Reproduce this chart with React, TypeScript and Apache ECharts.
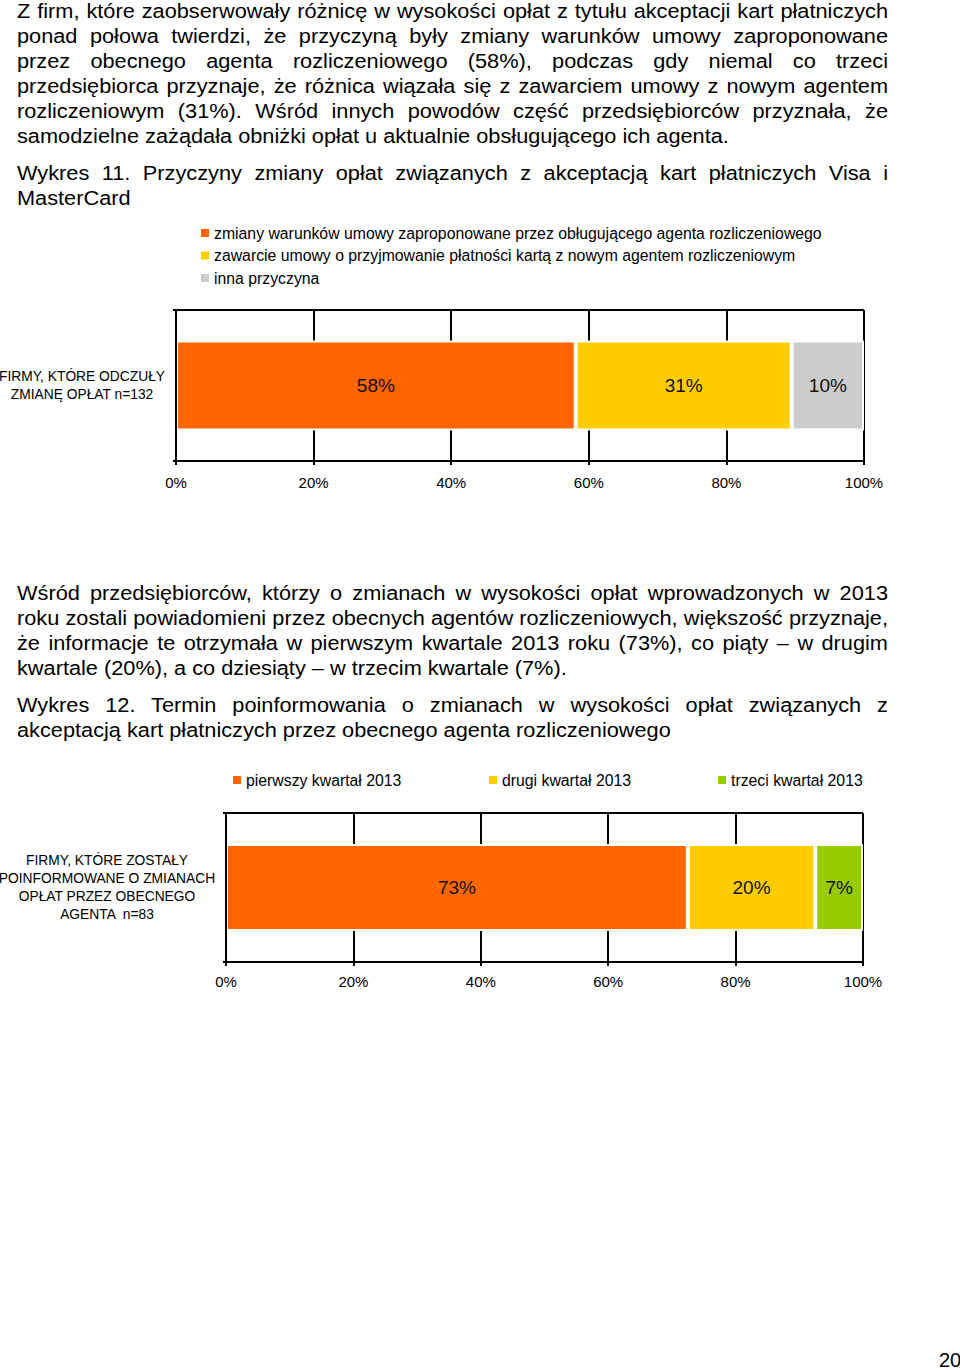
import React, { useEffect, useRef } from "react";
import * as echarts from "echarts";

const FONT = '"Liberation Sans", Arial, Helvetica, sans-serif';

// ---- page text ----
const para1Lines = [
  "Z firm, które zaobserwowały różnicę w wysokości opłat z tytułu akceptacji kart płatniczych",
  "ponad połowa twierdzi, że przyczyną były zmiany warunków umowy zaproponowane",
  "przez obecnego agenta rozliczeniowego (58%), podczas gdy niemal co trzeci",
  "przedsiębiorca przyznaje, że różnica wiązała się z zawarciem umowy z nowym agentem",
  "rozliczeniowym (31%). Wśród innych powodów część przedsiębiorców przyznała, że",
  "samodzielne zażądała obniżki opłat u aktualnie obsługującego ich agenta.",
];
const caption1Lines = [
  "Wykres 11. Przyczyny zmiany opłat związanych z akceptacją kart płatniczych Visa i",
  "MasterCard",
];
const para2Lines = [
  "Wśród przedsiębiorców, którzy o zmianach w wysokości opłat wprowadzonych w 2013",
  "roku zostali powiadomieni przez obecnych agentów rozliczeniowych, większość przyznaje,",
  "że informacje te otrzymała w pierwszym kwartale 2013 roku (73%), co piąty – w drugim",
  "kwartale (20%), a co dziesiąty – w trzecim kwartale (7%).",
];
const caption2Lines = [
  "Wykres 12. Termin poinformowania o zmianach w wysokości opłat związanych z",
  "akceptacją kart płatniczych przez obecnego agenta rozliczeniowego",
];
const pageNumber = "20";

// ---- chart 11 data ----
const categories1 = ["FIRMY, KTÓRE ODCZUŁY\nZMIANĘ OPŁAT n=132"];
const seriesNames1 = [
  "zmiany warunków umowy zaproponowane przez obługującego agenta rozliczeniowego",
  "zawarcie umowy o przyjmowanie płatności kartą z nowym agentem rozliczeniowym",
  "inna przyczyna",
];
const values1 = [58.1, 31.4, 10.5];
const labels1 = ["58%", "31%", "10%"];
const colors1 = ["#FF6600", "#FFCC00", "#CCCCCC"];

// ---- chart 12 data ----
const categories2 = [
  "FIRMY, KTÓRE ZOSTAŁY\nPOINFORMOWANE O ZMIANACH\nOPŁAT PRZEZ OBECNEGO\nAGENTA  n=83",
];
const seriesNames2 = ["pierwszy kwartał 2013", "drugi kwartał 2013", "trzeci kwartał 2013"];
const values2 = [72.5, 20, 7.5];
const labels2 = ["73%", "20%", "7%"];
const colors2 = ["#FF6600", "#FFCC00", "#99CC00"];

const axisMin = 0;
const axisMax = 100;
const axisInterval = 20;

const lineStyle = { color: "#000", width: 2 };

function buildOption(cfg: any) {
  return {
    animation: false,
    textStyle: { fontFamily: FONT },
    legend: cfg.legend,
    grid: {
      left: cfg.grid.left,
      right: cfg.grid.right,
      top: cfg.grid.top,
      bottom: cfg.grid.bottom,
      containLabel: false,
      outerBoundsMode: "none",
    },
    xAxis: {
      type: "value",
      min: axisMin,
      max: axisMax,
      interval: axisInterval,
      axisLine: { show: true, lineStyle },
      axisTick: { show: true, length: 4, lineStyle },
      axisLabel: { formatter: "{value}%", color: "#000", fontSize: 15, margin: cfg.xLabelMargin, fontFamily: FONT },
      splitLine: { show: true, lineStyle },
    },
    yAxis: {
      type: "category",
      data: cfg.categories,
      z: 3,
      axisLine: { show: true, lineStyle },
      axisTick: { show: true, length: 3, lineStyle },
      splitLine: { show: true, lineStyle },
      axisLabel: {
        align: "center",
        margin: cfg.yLabelMargin,
        fontSize: 13.8,
        lineHeight: 18,
        color: "#000",
        fontFamily: FONT,
      },
    },
    series: cfg.values.map((v: number, i: number) => ({
      type: "bar",
      name: cfg.names[i],
      stack: "total",
      data: [v],
      barWidth: cfg.barWidth,
      itemStyle: { color: cfg.colors[i], borderColor: "#fff", borderWidth: 2 },
      label: {
        show: true,
        position: "inside",
        formatter: cfg.labels[i],
        color: "#111",
        fontSize: 19,
        fontFamily: FONT,
      },
      emphasis: { disabled: true },
    })),
  };
}

const legendText = { color: "#000", fontSize: 15.8, lineHeight: 16, fontFamily: FONT };

function Chart({ option, style }: { option: any; style: React.CSSProperties }) {
  const ref = useRef<HTMLDivElement>(null);
  useEffect(() => {
    if (!ref.current) return;
    const chart = echarts.init(ref.current, undefined, { renderer: "svg" });
    chart.setOption(option);
    return () => chart.dispose();
  }, [option]);
  return <div ref={ref} style={style} />;
}

const TEXT_SCALE = 1.087;
const TEXT_WIDTH = 871;

function TextBlock({ lines, top }: { lines: string[]; top: number }) {
  return (
    <div style={{ position: "absolute", left: 17, top, width: TEXT_WIDTH }}>
      {lines.map((l, i) => {
        const last = i === lines.length - 1;
        return (
          <div
            key={i}
            style={{
              width: TEXT_WIDTH / TEXT_SCALE,
              height: 25,
              lineHeight: "25px",
              fontSize: 20,
              whiteSpace: "nowrap",
              textAlign: last ? "left" : "justify",
              textAlignLast: last ? "left" : "justify",
              transform: `scaleX(${TEXT_SCALE})`,
              transformOrigin: "0 0",
            } as React.CSSProperties}
          >
            {l}
          </div>
        );
      })}
    </div>
  );
}

const option1 = buildOption({
  legend: {
    orient: "vertical",
    left: 196,
    top: 5,
    itemWidth: 8,
    itemHeight: 8,
    itemGap: 6.5,
    icon: "rect",
    itemStyle: { borderWidth: 0 },
    textStyle: legendText,
    data: seriesNames1,
  },
  grid: { left: 176, right: 96, top: 95, bottom: 54 },
  categories: categories1,
  names: seriesNames1,
  values: values1,
  labels: labels1,
  colors: colors1,
  barWidth: 90,
  xLabelMargin: 14,
  yLabelMargin: 94,
});

const legend2Lefts = [228, 484, 713];
const option2 = buildOption({
  legend: seriesNames2.map((n, i) => ({
    left: legend2Lefts[i],
    top: 7,
    itemWidth: 8,
    itemHeight: 8,
    icon: "rect",
    itemStyle: { borderWidth: 0 },
    textStyle: legendText,
    data: [n],
  })),
  grid: { left: 226, right: 97, top: 53, bottom: 58 },
  categories: categories2,
  names: seriesNames2,
  values: values2,
  labels: labels2,
  colors: colors2,
  barWidth: 87,
  xLabelMargin: 12,
  yLabelMargin: 119,
});

export default function App() {
  return (
    <div
      style={{
        position: "absolute",
        left: 0,
        top: 0,
        width: 960,
        height: 1370,
        background: "#fff",
        color: "#000",
        fontFamily: FONT,
        overflow: "hidden",
      }}
    >
      <TextBlock lines={para1Lines} top={-1} />
      <TextBlock lines={caption1Lines} top={161} />
      <Chart option={option1} style={{ position: "absolute", left: 0, top: 215, width: 960, height: 300 }} />
      <TextBlock lines={para2Lines} top={581} />
      <TextBlock lines={caption2Lines} top={693} />
      <Chart option={option2} style={{ position: "absolute", left: 0, top: 760, width: 960, height: 260 }} />
      <div style={{ position: "absolute", left: 939, top: 1348, fontSize: 20, lineHeight: "25px" }}>{pageNumber}</div>
    </div>
  );
}
